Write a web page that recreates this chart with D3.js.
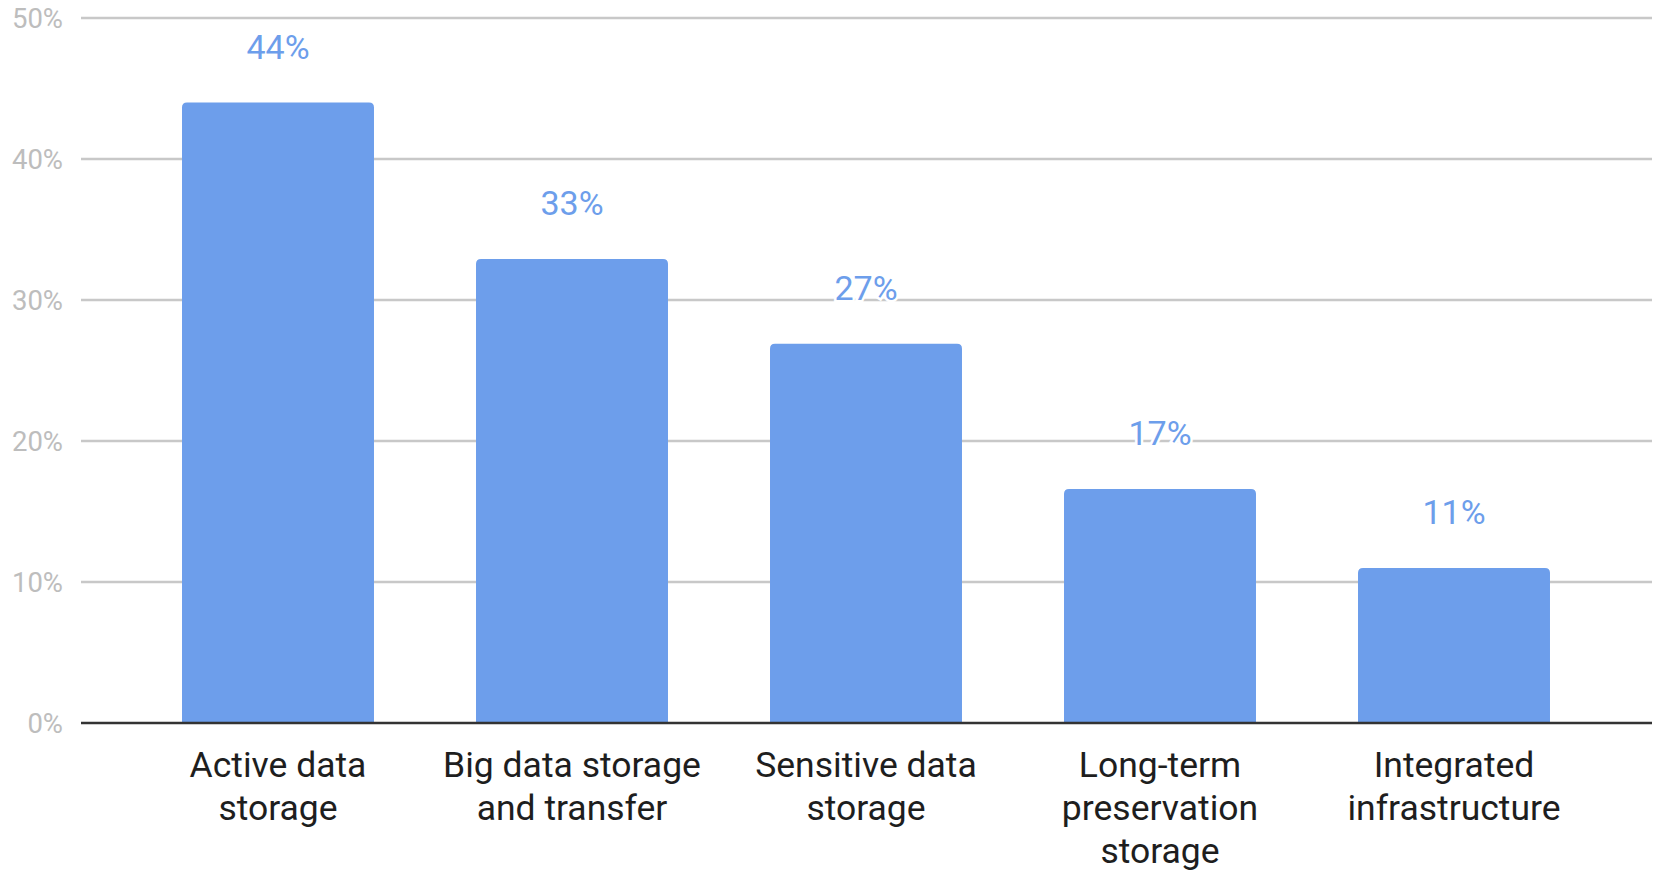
<!DOCTYPE html>
<html><head><meta charset="utf-8">
<script src="https://cdn.jsdelivr.net/npm/d3@7"></script>
<style>body{margin:0;background:#fff;font-family:Roboto,"Noto Sans",sans-serif;}</style>
</head><body><svg id="c" width="1657" height="870"></svg>
<script>
const categories = ["Active data storage","Big data storage and transfer","Sensitive data storage","Long-term preservation storage","Integrated infrastructure"];
const categoryLines = [["Active data","storage"],["Big data storage","and transfer"],["Sensitive data","storage"],["Long-term","preservation","storage"],["Integrated","infrastructure"]];
const values = [44.0, 32.9, 26.9, 16.6, 11.0];
const valueLabels = ["44%","33%","27%","17%","11%"];
const yTicks = [0,10,20,30,40,50];

const svg = d3.select("#c");
const plotL = 81, plotR = 1652, plotT = 18, plotB = 723;
const x = d3.scaleBand().domain(categories).range([131,1601]).paddingInner(0.347).paddingOuter(0.1735);
const y = d3.scaleLinear().domain([0,50]).range([plotB, plotT]);

// gridlines
svg.append("g").selectAll("line").data(yTicks.filter(t=>t>0)).join("line")
  .attr("x1",plotL).attr("x2",plotR).attr("y1",d=>y(d)).attr("y2",d=>y(d))
  .attr("stroke","#c8c8c8").attr("stroke-width",2.5);
// y tick labels
svg.append("g").selectAll("text").data(yTicks).join("text")
  .attr("x",63).attr("y",d=>y(d)).attr("dy","0.36em").attr("text-anchor","end")
  .attr("font-size",27.5).attr("fill","#bdbdbd").text(d=>d+"%");

// bars with rounded top corners
const r = 5;
svg.append("g").selectAll("path").data(values).join("path")
  .attr("d",(d,i)=>{
    const x0=x(categories[i]), w=x.bandwidth(), y0=y(d), yb=y(0);
    return `M${x0},${yb}V${y0+r}Q${x0},${y0} ${x0+r},${y0}H${x0+w-r}Q${x0+w},${y0} ${x0+w},${y0+r}V${yb}Z`;
  }).attr("fill","#6d9eeb");

// baseline
svg.append("line").attr("x1",plotL).attr("x2",plotR).attr("y1",plotB).attr("y2",plotB)
  .attr("stroke","#333").attr("stroke-width",2.5);

// value labels
svg.append("g").selectAll("text").data(values).join("text")
  .attr("x",(d,i)=>x(categories[i])+x.bandwidth()/2).attr("y",d=>y(d)-44)
  .attr("text-anchor","middle").attr("font-size",34).attr("fill","#6d9eeb")
  .attr("stroke","#fff").attr("stroke-width",5).attr("paint-order","stroke")
  .text((d,i)=>valueLabels[i]);

// category labels
const cg = svg.append("g");
categories.forEach((c,i)=>{
  const t = cg.append("text").attr("x",x(c)+x.bandwidth()/2).attr("y",777)
    .attr("text-anchor","middle").attr("font-size",35.5).attr("fill","#1e1e1e");
  categoryLines[i].forEach((ln,j)=>{
    t.append("tspan").attr("x",x(c)+x.bandwidth()/2).attr("y",777+j*43).text(ln);
  });
});
</script></body></html>
